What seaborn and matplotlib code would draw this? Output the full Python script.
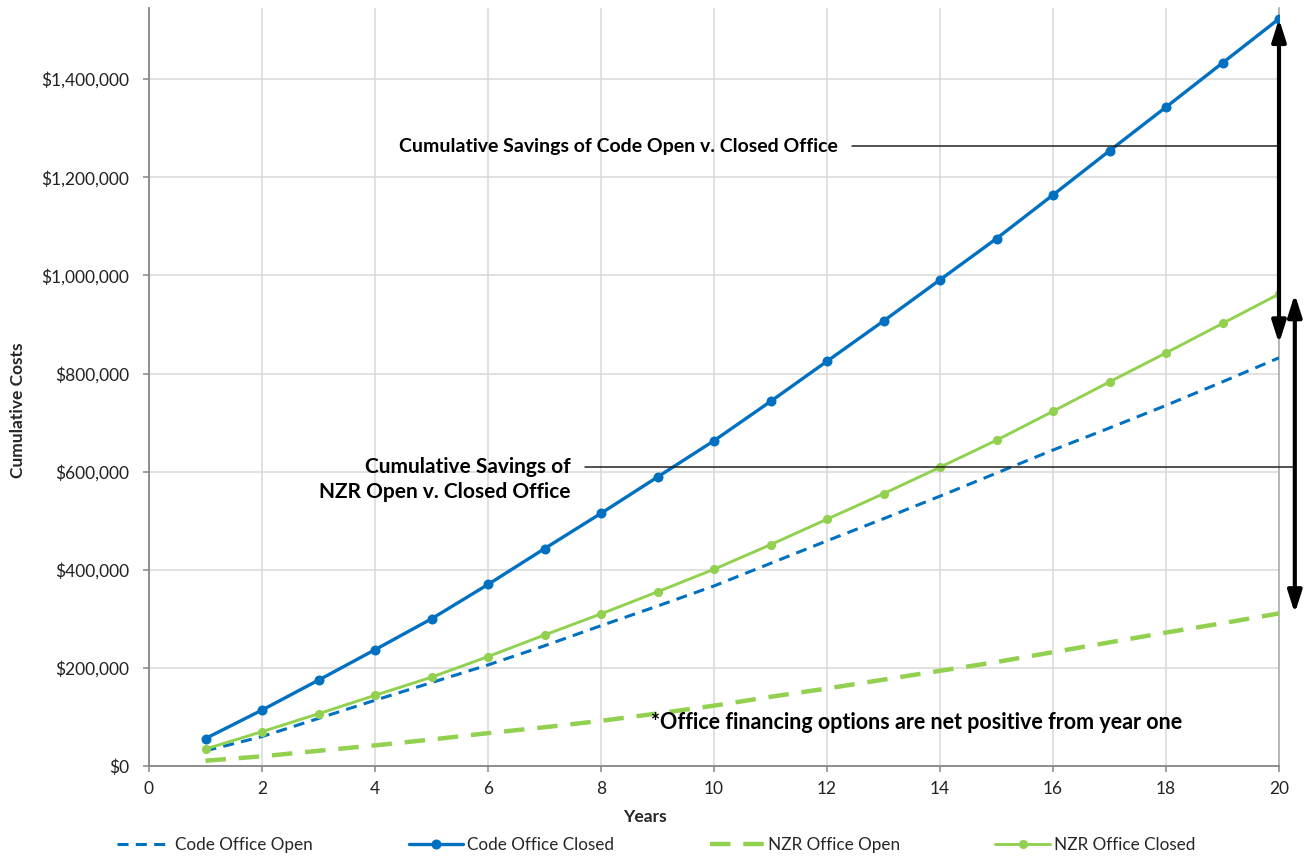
import matplotlib
matplotlib.use("Agg")
import matplotlib.pyplot as plt
import matplotlib.ticker as mticker
import numpy as np
import pandas as pd
import seaborn as sns

# Cumulative cost per year, in dollars
years = list(range(1, 21))
code_open = [31000, 60000, 97000, 134000, 170000, 206000, 245000, 286000, 326000, 367000,
             413000, 459000, 504000, 550000, 597000, 644000, 689000, 735000, 783000, 832000]
code_closed = [56000, 114000, 175000, 237000, 300000, 370000, 443000, 515000, 589000, 663000,
               743000, 825000, 907000, 991000, 1075000, 1164000, 1254000, 1343000, 1433000, 1523000]
nzr_open = [10800, 19700, 31000, 42000, 54000, 67000, 79000, 92000, 107000, 123000,
            141000, 158000, 176000, 194000, 212000, 232000, 252000, 272000, 291000, 311000]
nzr_closed = [34600, 70000, 106500, 144000, 181000, 223000, 267000, 310000, 355000, 401000,
              451000, 503000, 555000, 609000, 664000, 723000, 783000, 842000, 902000, 962000]

series_names = ["Code Office Open", "Code Office Closed", "NZR Office Open", "NZR Office Closed"]
x_ticks = list(range(0, 21, 2))
y_ticks = list(range(0, 1400001, 200000))

# Savings annotations
code_savings_label = "Cumulative Savings of Code Open v. Closed Office"
nzr_savings_label = "Cumulative Savings of\nNZR Open v. Closed Office"
note_label = "*Office financing options are net positive from year one"

BLUE = "#0070C0"
GREEN = "#92D050"

sns.set_theme(style="white")
plt.rcParams["font.family"] = ["Lato", "DejaVu Sans"]

df = pd.DataFrame({
    "Years": years * 4,
    "Cost": code_open + code_closed + nzr_open + nzr_closed,
    "Series": np.repeat(series_names, len(years)),
})

fig = plt.figure(figsize=(13.07, 8.56), dpi=100)
ax = fig.add_axes([149 / 1307, 1 - 766 / 856, (1279 - 149) / 1307, (766 - 8) / 856])

styles = {
    "Code Office Open": dict(color=BLUE, lw=2.2, ls=(0, (3.6, 2.4)), marker=None, ms=0),
    "Code Office Closed": dict(color=BLUE, lw=2.4, ls="-", marker="o", ms=7.2),
    "NZR Office Open": dict(color=GREEN, lw=3.2, ls=(0, (4.6, 2.9)), marker=None, ms=0),
    "NZR Office Closed": dict(color=GREEN, lw=2.1, ls="-", marker="o", ms=6.6),
}

handles = []
for name in series_names:
    st = styles[name]
    sub = df[df["Series"] == name]
    kw = dict(color=st["color"], linewidth=st["lw"], linestyle=st["ls"])
    if st["marker"]:
        kw.update(marker=st["marker"], markersize=st["ms"], markeredgewidth=0,
                  markerfacecolor=st["color"])
    sns.lineplot(data=sub, x="Years", y="Cost", ax=ax, label=name, zorder=3, **kw)
    handles.append(ax.get_lines()[-1])

ax.set_xlim(0, 20)
ax.set_ylim(0, 1545000)
ax.set_xticks(x_ticks)
ax.set_yticks(y_ticks)
ax.yaxis.set_major_formatter(mticker.FuncFormatter(lambda v, p: f"${v:,.0f}"))
ax.grid(True, color="#d9d9d9", linewidth=1.1, zorder=0)
ax.set_axisbelow(True)

ax.spines["top"].set_visible(False)
ax.spines["right"].set_color("#a6a6a6")
ax.spines["right"].set_linewidth(1.1)
for side in ["left", "bottom"]:
    ax.spines[side].set_color("#868686")
    ax.spines[side].set_linewidth(1.3)

ax.tick_params(axis="both", which="major", direction="out", length=4.5, width=1.1,
               color="#868686", labelsize=12.5, labelcolor="#222222",
               left=True, bottom=True)
ax.tick_params(axis="y", pad=10)
ax.tick_params(axis="x", pad=6)

ax.set_xlabel("Years", fontsize=12.5, fontweight="bold")
ax.set_ylabel("Cumulative Costs", fontsize=12.5, fontweight="bold")
ax.xaxis.set_label_coords((645 - 149) / 1130, -(817 - 766) / 758)
ax.yaxis.set_label_coords(-(149 - 18) / 1130, (766 - 410) / 758)
ax.xaxis.label.set_va("center")
ax.yaxis.label.set_va("center")

# Leader lines and text for the savings callouts
ax.plot([12.44, 20.0], [1263000, 1263000], color="#222222", lw=1.1, zorder=4)
ax.text(12.2, 1263000, code_savings_label, ha="right", va="center",
        fontsize=14, fontweight="bold", color="black")
ax.plot([7.72, 20.28], [610000, 610000], color="#222222", lw=1.1, zorder=4, clip_on=False)
ax.text(7.46, 584000, nzr_savings_label, ha="right", va="center", fontsize=15,
        fontweight="bold", color="black", linespacing=1.3, multialignment="right")
ax.text(8.88, 89000, note_label, ha="left", va="center", fontsize=15.5,
        fontweight="bold", color="black")

# Double-headed savings arrows
arrow_kw = dict(arrowstyle="<|-|>,head_length=1.1,head_width=0.35", color="black",
                lw=3.0, shrinkA=0, shrinkB=0)
ax.annotate("", xy=(20.0, code_closed[-1]), xytext=(20.0, 861000),
            arrowprops=arrow_kw, annotation_clip=False, zorder=5)
ax.annotate("", xy=(20.28, nzr_closed[-1]), xytext=(20.28, nzr_open[-1]),
            arrowprops=arrow_kw, annotation_clip=False, zorder=5)

if ax.get_legend() is not None:
    ax.get_legend().remove()
fig.legend(handles, series_names, loc="center", bbox_to_anchor=(0.502, 0.013),
           ncol=4, frameon=False, handlelength=3.2, handletextpad=0.2,
           columnspacing=5.6, fontsize=12.3)

fig.savefig("out.png", dpi=100, facecolor="white")
